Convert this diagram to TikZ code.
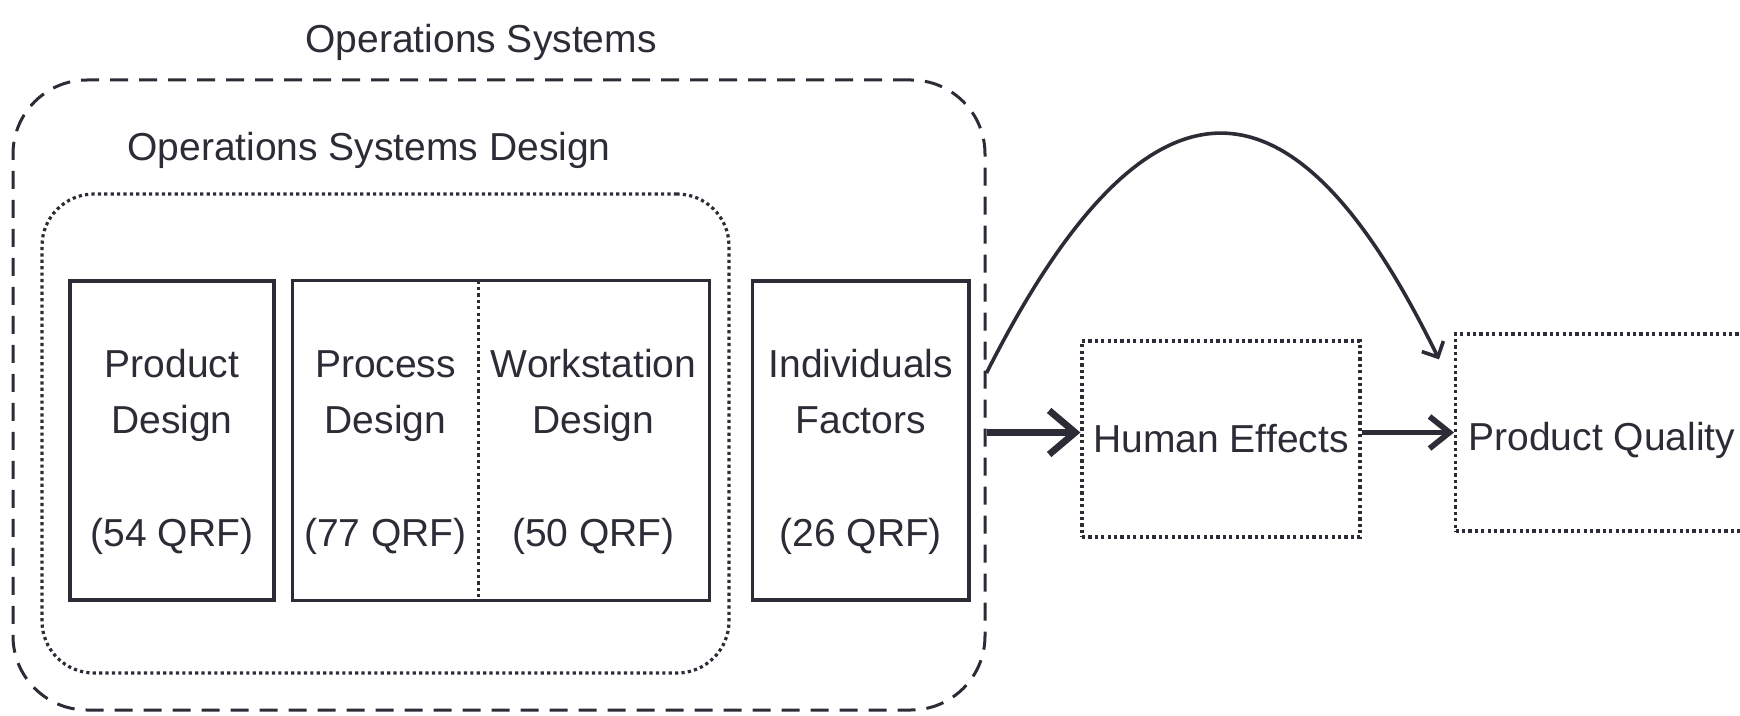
\documentclass[tikz,border=0pt]{standalone}
\usepackage{fontspec}
\setmainfont{Liberation Sans}
\usetikzlibrary{arrows.meta}
\definecolor{ink}{RGB}{44,44,54}

\begin{document}
\begin{tikzpicture}[x=0.5pt,y=-0.5pt,
  every node/.style={text=ink,font=\fontsize{19.5}{28.3}\selectfont},
  boxline/.style={draw=ink,line width=1.8pt},
  dotline/.style={draw=ink,line width=1.6pt,dash pattern=on 1.6pt off 1.6pt},
  qtext/.style={minimum height=159.5pt,align=center,inner sep=0pt,text height=110.5pt},
  qbox/.style={boxline,qtext},
  arrowone/.style={draw=ink,line width=3.4pt,-{Straight Barb[length=13pt,width=22pt]}},
  arrowtwo/.style={draw=ink,line width=2.8pt,-{Straight Barb[length=10pt,width=16pt]}},
  curvearrow/.style={draw=ink,line width=1.8pt,-{Straight Barb[length=6pt,width=12pt]}}]
\clip (0,0) rectangle (1740,716);
% operations systems
\node[draw=ink,line width=1.5pt,dash pattern=on 9pt off 5.5pt,rounded corners=37pt,minimum width=486pt,minimum height=315pt] (opsys) at (499,395) {};
\node (opsystitle) at (481,42) {Operations Systems};
\node[dotline,rounded corners=26pt,minimum width=343.5pt,minimum height=239.5pt] (osdesign) at (385.5,433.5) {};
\node (osdesigntitle) at (369,150) {Operations Systems Design};
% factor boxes
\node[qbox,minimum width=102pt] (product) at (172,440.5) {Product\\Design\\[28.3pt](54 QRF)};
\node[qtext,minimum width=92.5pt] (process) at (385.5,440.5) {Process\\Design\\[28.3pt](77 QRF)};
\node[qtext,minimum width=115.5pt] (workst) at (593.5,440.5) {Workstation\\Design\\[28.3pt](50 QRF)};
\draw[boxline] (process.north west) rectangle (workst.south east);
\draw[dotline] (process.north east) -- (process.south east);
\node[qbox,minimum width=108.25pt] (indiv) at (860.75,440.5) {Individuals\\Factors\\[28.3pt](26 QRF)};
% effects
\node[dotline,minimum width=139pt,minimum height=98pt,inner sep=0pt] (human) at (1221,439) {Human Effects};
\node[dotline,anchor=west,minimum height=98.5pt,inner xsep=6.5pt,text height=18pt,text depth=0pt] (quality) at (1454,432.5) {Product Quality};
\draw[arrowone] (opsys.east |- quality.west) -- (human.west |- quality.west);
\draw[arrowtwo] (human.east |- quality.west) -- (quality.west);
\draw[curvearrow] ([yshift=11pt]opsys.east) .. controls (1175,0) and (1320,116) .. ([shift={(-15,27)}]quality.north west);
\end{tikzpicture}
\end{document}
